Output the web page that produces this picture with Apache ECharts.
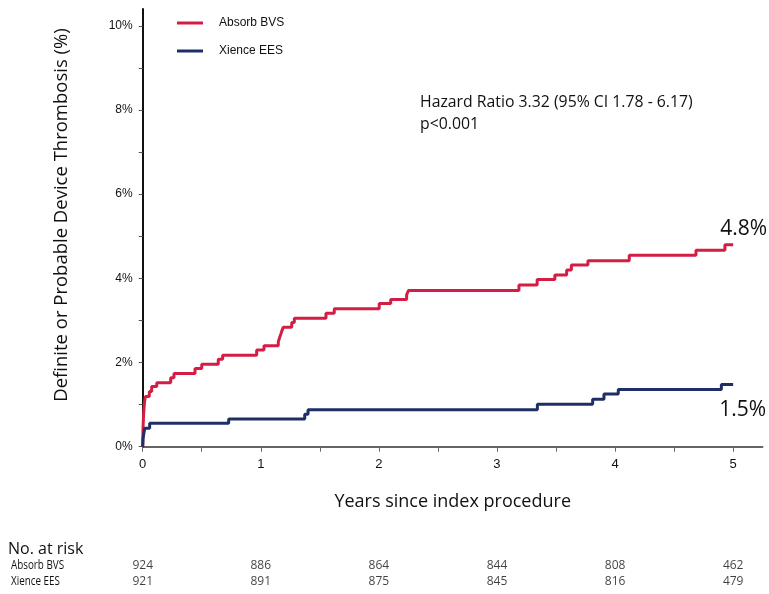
<!doctype html>
<html>
<head>
    <meta charset="utf-8">
    <script src="https://cdn.jsdelivr.net/npm/echarts@6/dist/echarts.min.js"></script>
</head>
<body style="margin: 0">
    <div id="container" style="width: 769px; height: 594px"></div>
    <script type="text/javascript">
        // cumulative incidence (%) by years since index procedure
        var absorbBvs = [
            [0, 0], [0.003, 0.45], [0.008, 0.8], [0.015, 1.05], [0.022, 1.19],
            [0.056, 1.31], [0.076, 1.43], [0.119, 1.52], [0.237, 1.64], [0.265, 1.74],
            [0.443, 1.86], [0.50, 1.96], [0.64, 2.08], [0.677, 2.17], [0.965, 2.30],
            [1.027, 2.40], [1.148, 2.49], [1.16, 2.60], [1.17, 2.68], [1.177, 2.74],
            [1.19, 2.84], [1.262, 2.95], [1.284, 3.05], [1.552, 3.17], [1.622, 3.28],
            [2.003, 3.40], [2.10, 3.50], [2.235, 3.61], [2.25, 3.71], [3.186, 3.84],
            [3.34, 3.97], [3.49, 4.08], [3.59, 4.20], [3.63, 4.32], [3.77, 4.42],
            [4.12, 4.55], [4.685, 4.67], [4.93, 4.80], [5.0, 4.80]
        ];
        var xienceEes = [
            [0, 0], [0.003, 0.2], [0.01, 0.32], [0.017, 0.44], [0.059, 0.56],
            [0.728, 0.66], [1.372, 0.77], [1.40, 0.88], [3.342, 1.01], [3.81, 1.13],
            [3.906, 1.25], [4.027, 1.36], [4.90, 1.48], [5.0, 1.48]
        ];
        var yearLabels = [0, 1, 2, 3, 4, 5];
        var yearTicks = [0, 0.5, 1, 1.5, 2, 2.5, 3, 3.5, 4, 4.5, 5];
        var pctLabels = [0, 2, 4, 6, 8, 10];
        var pctTicks = [0, 1, 2, 3, 4, 5, 6, 7, 8, 9, 10];

        // number at risk
        var riskYears = [0, 1, 2, 3, 4, 5];
        var riskAbsorb = [924, 886, 864, 844, 808, 462];
        var riskXience = [921, 891, 875, 845, 816, 479];

        var red = '#d41d44';
        var navy = '#1f2f66';
        var myriad = '"Open Sans", "Noto Sans", sans-serif';
        var arial = '"Liberation Sans", Arial, sans-serif';

        var riskData = [];
        for (var i = 0; i < riskYears.length; i++) {
            riskData.push([riskYears[i], 1, riskAbsorb[i]]);
            riskData.push([riskYears[i], 0, riskXience[i]]);
        }

        var dom = document.getElementById('container');
        var myChart = echarts.init(dom);
        var option = {
            animation: false,
            backgroundColor: '#ffffff',
            legend: {
                orient: 'vertical',
                left: 172,
                top: 12,
                itemWidth: 26,
                itemHeight: 3,
                itemGap: 16,
                icon: 'rect',
                data: ['Absorb BVS', 'Xience EES'],
                textStyle: { fontFamily: arial, fontSize: 12, color: '#111', padding: [0, 0, 0, 11] }
            },
            grid: [
                { left: 142.7, right: 6.3, top: 9, bottom: 147.3 },
                { left: 142.7, right: 6.3, top: 566, height: 15.7 }
            ],
            xAxis: [
                {
                    type: 'value', min: 0, max: 5.25,
                    name: 'Years since index procedure',
                    nameLocation: 'middle',
                    nameGap: 46,
                    nameTextStyle: { fontFamily: myriad, fontSize: 18, color: '#111' },
                    splitLine: { show: false },
                    axisLine: { lineStyle: { color: '#333', width: 1.5 } },
                    axisTick: { customValues: yearTicks, length: 5, lineStyle: { color: '#666' } },
                    axisLabel: {
                        customValues: yearLabels, margin: 11,
                        fontFamily: arial, fontSize: 13, color: '#111'
                    }
                },
                { type: 'value', gridIndex: 1, min: 0, max: 5.25, show: false }
            ],
            yAxis: [
                {
                    type: 'value', min: 0, max: 10.4,
                    splitLine: { show: false },
                    axisLine: { show: true, lineStyle: { color: '#111', width: 2 } },
                    axisTick: { show: true, customValues: pctTicks, length: 4, lineStyle: { color: '#555' } },
                    axisLabel: {
                        customValues: pctLabels, margin: 10,
                        fontFamily: arial, fontSize: 12, color: '#111',
                        formatter: function (v) { return v + '%'; }
                    }
                },
                { type: 'value', gridIndex: 1, min: 0, max: 1, show: false }
            ],
            graphic: [
                {
                    type: 'text', x: 62, y: 215, rotation: Math.PI / 2,
                    style: {
                        text: 'Definite or Probable Device Thrombosis (%)',
                        fontFamily: myriad, fontSize: 18.5, fill: '#111',
                        align: 'center', verticalAlign: 'middle'
                    }
                },
                {
                    type: 'text', left: 420, top: 91,
                    style: {
                        text: 'Hazard Ratio 3.32 (95% CI 1.78 - 6.17)\np<0.001',
                        fontFamily: myriad, fontSize: 15.8, lineHeight: 22, fill: '#111'
                    }
                },
                {
                    type: 'text', left: 8, top: 541,
                    style: { text: 'No. at risk', fontFamily: myriad, fontSize: 16, fill: '#111' }
                },
                {
                    type: 'text', x: 11, y: 558, scaleX: 0.82,
                    style: { text: 'Absorb BVS\nXience EES', fontFamily: myriad, fontSize: 12, lineHeight: 15.7, fill: '#111' }
                }
            ],
            series: [
                {
                    name: 'Absorb BVS',
                    type: 'line',
                    step: 'end',
                    symbol: 'none',
                    color: red,
                    lineStyle: { width: 3, color: red },
                    data: absorbBvs,
                    endLabel: {
                        show: true, formatter: '4.8%', distance: 0, offset: [-13, -16],
                        fontFamily: myriad, fontSize: 21, color: '#111'
                    }
                },
                {
                    name: 'Xience EES',
                    type: 'line',
                    step: 'end',
                    symbol: 'none',
                    color: navy,
                    lineStyle: { width: 3, color: navy },
                    data: xienceEes,
                    endLabel: {
                        show: true, formatter: '1.5%', distance: 0, offset: [-14, 26],
                        fontFamily: myriad, fontSize: 21, color: '#111'
                    }
                },
                {
                    name: 'No. at risk',
                    type: 'scatter',
                    xAxisIndex: 1,
                    yAxisIndex: 1,
                    symbolSize: 1,
                    itemStyle: { color: 'transparent' },
                    silent: true,
                    data: riskData,
                    label: {
                        show: true, position: 'inside',
                        fontFamily: myriad, fontSize: 12, color: '#111',
                        formatter: function (p) { return p.value[2]; }
                    }
                }
            ]
        };
        myChart.setOption(option);
    </script>
</body>
</html>
